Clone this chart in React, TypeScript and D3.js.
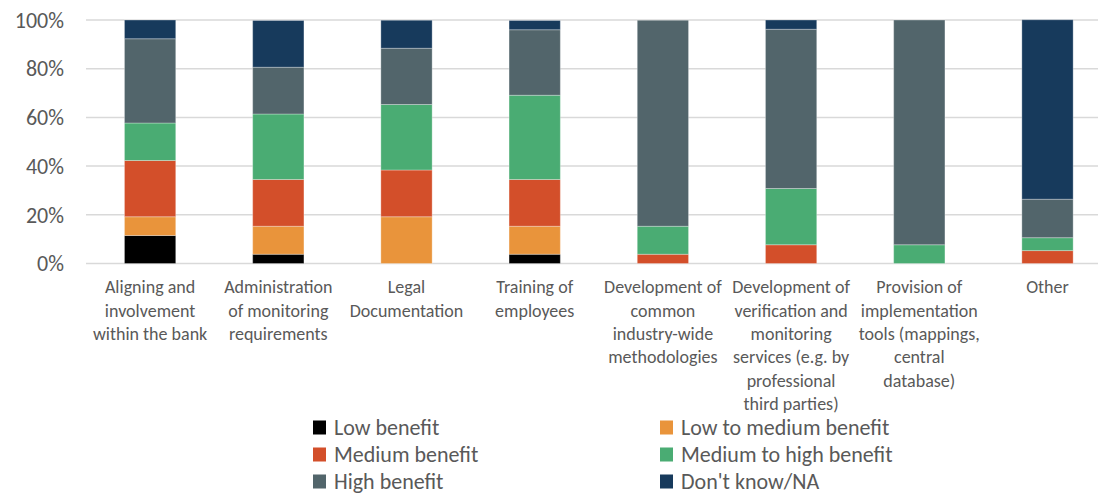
import React, { useEffect, useRef } from 'react';
import * as d3 from 'd3';

const categories = [
  ['Aligning and', 'involvement', 'within the bank'],
  ['Administration', 'of monitoring', 'requirements'],
  ['Legal', 'Documentation'],
  ['Training of', 'employees'],
  ['Development of', 'common', 'industry-wide', 'methodologies'],
  ['Development of', 'verification and', 'monitoring', 'services (e.g. by', 'professional', 'third parties)'],
  ['Provision of', 'implementation', 'tools (mappings,', 'central', 'database)'],
  ['Other'],
];

const seriesNames = [
  'Low benefit',
  'Low to medium benefit',
  'Medium benefit',
  'Medium to high benefit',
  'High benefit',
  "Don't know/NA",
];

// shares in percent, one value per category
const lowBenefit = [11.5, 3.8, 0, 3.8, 0, 0, 0, 0];
const lowToMedium = [7.7, 11.5, 19.2, 11.5, 0, 0, 0, 0];
const mediumBenefit = [23.1, 19.2, 19.2, 19.2, 3.8, 7.7, 0, 5.3];
const mediumToHigh = [15.4, 26.9, 26.9, 34.6, 11.5, 23.1, 7.7, 5.3];
const highBenefit = [34.6, 19.2, 23.1, 26.9, 84.6, 65.4, 92.3, 15.8];
const dontKnow = [7.7, 19.2, 11.5, 3.8, 0, 3.8, 0, 73.7];

const yTicks = [0, 20, 40, 60, 80, 100];

const colors = ['#000000', '#E9943B', '#D34F2A', '#4AAC73', '#52656B', '#173A5C'];

const FONT = 'Carlito, Lato, sans-serif';
const TEXT = '#595959';

export default function App() {
  const ref = useRef<SVGSVGElement>(null);

  useEffect(() => {
    const svg = d3.select(ref.current);
    svg.selectAll('*').remove();

    const allSeries = [lowBenefit, lowToMedium, mediumBenefit, mediumToHigh, highBenefit, dontKnow];
    const rows = categories.map((c, i) => {
      const r: any = { key: i };
      seriesNames.forEach((s, j) => { r[s] = allSeries[j][i]; });
      return r;
    });

    const x = d3.scaleBand<number>()
      .domain(categories.map((c, i) => i))
      .range([86, 1111.6])
      .paddingInner(0.6)
      .paddingOuter(0.3);
    const y = d3.scaleLinear().domain([0, 100]).range([263.5, 20]);

    // grid
    svg.append('g')
      .selectAll('line')
      .data(yTicks)
      .join('line')
      .attr('x1', 86)
      .attr('x2', 1098)
      .attr('y1', d => y(d))
      .attr('y2', d => y(d))
      .attr('stroke', '#D9D9D9')
      .attr('stroke-width', 1.5);

    svg.append('g')
      .selectAll('text')
      .data(yTicks)
      .join('text')
      .attr('x', 64)
      .attr('y', d => y(d))
      .attr('dy', '0.35em')
      .attr('text-anchor', 'end')
      .style('font-family', FONT)
      .style('font-size', '22px')
      .style('fill', TEXT)
      .text(d => d + '%');

    const stacked = d3.stack().keys(seriesNames)(rows);

    svg.append('g')
      .selectAll('g')
      .data(stacked)
      .join('g')
      .attr('fill', (d, i) => colors[i])
      .selectAll('rect')
      .data(d => d.filter(p => p[1] - p[0] > 0))
      .join('rect')
      .attr('x', d => x((d.data as any).key)!)
      .attr('width', x.bandwidth())
      .attr('y', d => y(d[1]))
      .attr('height', d => y(d[0]) - y(d[1]))
      .attr('stroke', 'rgba(255,255,255,0.3)')
      .attr('stroke-width', 1);

    // category labels
    const labels = svg.append('g')
      .selectAll('text')
      .data(categories)
      .join('text')
      .attr('text-anchor', 'middle')
      .style('font-family', FONT)
      .style('font-size', '18px')
      .style('fill', TEXT);
    labels.each(function (lines, i) {
      const cx = x(i)! + x.bandwidth() / 2;
      d3.select(this)
        .selectAll('tspan')
        .data(lines)
        .join('tspan')
        .attr('x', cx)
        .attr('y', (d, k) => 287 + k * 23.3)
        .attr('dy', '0.35em')
        .text(d => d);
    });

    // legend
    const legend = svg.append('g')
      .selectAll('g')
      .data(seriesNames)
      .join('g')
      .attr('transform', (d, i) => `translate(${i % 2 === 0 ? 313 : 660},${427.5 + Math.floor(i / 2) * 27})`);
    legend.append('rect')
      .attr('x', 0)
      .attr('y', -7)
      .attr('width', 13)
      .attr('height', 14)
      .attr('fill', (d, i) => colors[i]);
    legend.append('text')
      .attr('x', 21)
      .attr('dy', '0.35em')
      .style('font-family', FONT)
      .style('font-size', '22px')
      .style('fill', TEXT)
      .text(d => d);
  }, []);

  return (
    <svg
      ref={ref}
      width={1098}
      height={495}
      style={{ position: 'absolute', left: 0, top: 0, background: '#fff' }}
    />
  );
}
